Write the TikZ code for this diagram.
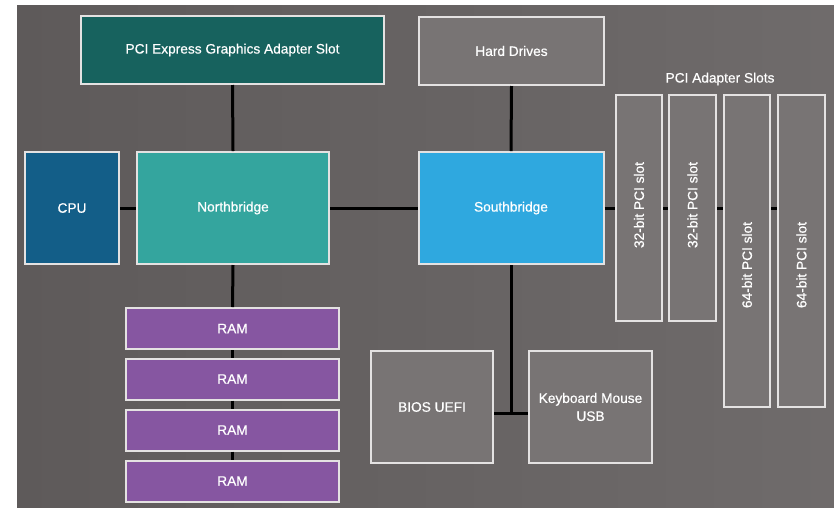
\documentclass[tikz,border=0pt]{standalone}
\usepackage{fontspec}
\setmainfont{Liberation Sans}[FakeBold=0.6]
\definecolor{bgL}{HTML}{5E5A5A}
\definecolor{bgR}{HTML}{6F6B6B}
\definecolor{pcie}{HTML}{17625E}
\definecolor{cpuc}{HTML}{135E88}
\definecolor{nbc}{HTML}{34A59E}
\definecolor{sbc}{HTML}{2FA8DF}
\definecolor{ramc}{HTML}{8656A1}
\definecolor{grayc}{HTML}{787474}
\definecolor{edge}{HTML}{E4E2E2}
\begin{document}
\begin{tikzpicture}[x=1pt,y=-1pt,
  box/.style={draw=edge,line width=2pt,inner sep=0pt,text=white,align=center,
    font=\fontsize{13.7}{18}\selectfont},
  slottxt/.style={rotate=90,text=white,font=\fontsize{13.7}{16}\selectfont},
  wire/.style={line width=3pt,black}]
\useasboundingbox (0,0) rectangle (834,507);
\fill[white] (0,0) rectangle (834,507);
\shade[left color=bgL,right color=bgR] (17,5) rectangle (834,507);
\node[box,fill=pcie,minimum width=303,minimum height=68] (pcie) at (232.5,50) {PCI Express Graphics Adapter Slot};
\node[box,fill=grayc,minimum width=185,minimum height=68] (hd) at (511.5,51) {Hard Drives};
\node[box,fill=cpuc,minimum width=94,minimum height=112] (cpu) at (72,208) {CPU};
\node[box,fill=nbc,minimum width=192,minimum height=112] (nb) at (233,208) {Northbridge};
\node[box,fill=sbc,minimum width=185,minimum height=112] (sb) at (511,208) {Southbridge};
\node[box,fill=grayc,minimum width=46,minimum height=226] (s1) at (639,208) {};
\node[box,fill=grayc,minimum width=47,minimum height=226] (s2) at (692.5,208) {};
\node[box,fill=grayc,minimum width=46,minimum height=312] (s3) at (747,251) {};
\node[box,fill=grayc,minimum width=47,minimum height=312] (s4) at (801.5,251) {};
\node[slottxt] (t1) at (639,205) {32-bit PCI slot};
\node[slottxt] (t2) at (692.5,205) {32-bit PCI slot};
\node[slottxt] (t3) at (747,265) {64-bit PCI slot};
\node[slottxt] (t4) at (801.5,265) {64-bit PCI slot};
\node[text=white,font=\fontsize{13.7}{16}\selectfont] (lbl) at (720,79) {PCI Adapter Slots};
\foreach \i/\y in {1/328.5,2/379,3/430,4/481}
  \node[box,fill=ramc,minimum width=213,minimum height=41] (ram\i) at (232.5,\y) {RAM};
\node[box,fill=grayc,minimum width=122,minimum height=112] (bios) at (432,407) {BIOS UEFI};
\node[box,fill=grayc,minimum width=123,minimum height=112] (kbd) at (590.5,407) {Keyboard Mouse\\USB};
\coordinate (j) at (511,413);
\draw[wire] (cpu.east) -- (nb.west);
\draw[wire] (nb.east) -- (sb.west);
\draw[wire] (sb.east) -- (s1.west);
\draw[wire] (s1.east) -- (s2.west);
\draw[wire] (s2.east) -- (s3.west |- s2.east);
\draw[wire] (s3.east |- s2.east) -- (s4.west |- s2.east);
\draw[wire] (pcie.south) -- (nb.north);
\draw[wire] (nb.south) -- (ram1.north);
\draw[wire] (ram1.south) -- (ram2.north);
\draw[wire] (ram2.south) -- (ram3.north);
\draw[wire] (ram3.south) -- (ram4.north);
\draw[wire] (hd.south) -- (sb.north);
\draw[wire] (sb.south) -- (j);
\draw[wire] (bios.east |- j) -- (kbd.west |- j);
\end{tikzpicture}
\end{document}
